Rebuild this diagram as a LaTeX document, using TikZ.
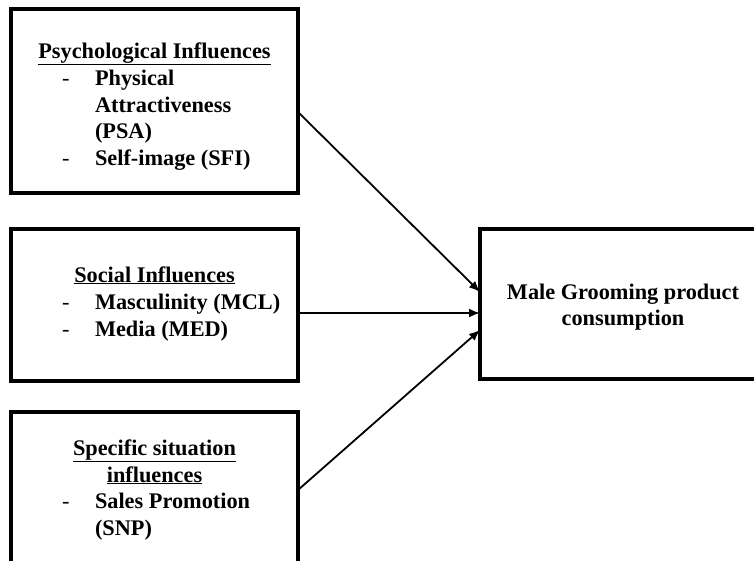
\documentclass[tikz,border=0pt]{standalone}
\usepackage{fontspec}
\setmainfont{Liberation Serif}
\usetikzlibrary{arrows.meta}
\tikzset{
  box/.style={draw, line width=3.5pt, rectangle, inner sep=0pt, outer sep=0pt},
  txt/.style={inner sep=0pt, outer sep=0pt, font=\fontsize{22.3}{26.8}\selectfont\bfseries},
  dashmark/.style={inner sep=0pt, outer sep=0pt, font=\fontsize{22.3}{26.8}\selectfont},
  arr/.style={line width=1.8pt, -{Latex[length=11pt,width=9pt]}}
}
\begin{document}
\begin{tikzpicture}[x=1pt,y=-1pt]
\useasboundingbox (0,0) rectangle (754,560);
\clip (0,0) rectangle (754,560);
\fill[white] (0,0) rectangle (754,560);
% boxes
\node[box, anchor=north west, minimum width=287pt, minimum height=184pt] (b1) at (11,9) {};
\node[box, anchor=north west, minimum width=287pt, minimum height=152pt] (b2) at (11,229) {};
\node[box, anchor=north west, minimum width=287pt, minimum height=200pt] (b3) at (11,412) {};
\node[box, anchor=north west, minimum width=300pt, minimum height=150pt] (b4) at (480,229) {};
% box 1 text
\node[txt, anchor=base] (h1) at (154.5,58) {\underline{Psychological Influences}};
\node[dashmark, anchor=base west] (d1a) at (62,85) {-};
\node[txt, anchor=base west] (t1a) at (95,85) {Physical};
\node[txt, anchor=base west] (t1b) at (95,112) {Attractiveness};
\node[txt, anchor=base west] (t1c) at (95,138.5) {(PSA)};
\node[dashmark, anchor=base west] (d1b) at (62,165) {-};
\node[txt, anchor=base west] (t1d) at (95,165) {Self-image (SFI)};
% box 2 text
\node[txt, anchor=base] (h2) at (154.5,282) {\underline{Social Influences}};
\node[dashmark, anchor=base west] (d2a) at (62,309) {-};
\node[txt, anchor=base west] (t2a) at (95,309) {Masculinity (MCL)};
\node[dashmark, anchor=base west] (d2b) at (62,336) {-};
\node[txt, anchor=base west] (t2b) at (95,336) {Media (MED)};
% box 3 text
\node[txt, anchor=base] (h3a) at (154.5,455) {\underline{Specific situation}};
\node[txt, anchor=base] (h3b) at (154.5,482) {\underline{influences}};
\node[dashmark, anchor=base west] (d3a) at (62,508) {-};
\node[txt, anchor=base west] (t3a) at (95,508) {Sales Promotion};
\node[txt, anchor=base west] (t3b) at (95,535) {(SNP)};
% box 4 text
\node[txt, anchor=base] (m1) at (623,299) {Male Grooming product};
\node[txt, anchor=base] (m2) at (623,325) {consumption};
% arrows
\draw[arr] (b1.east |- 0,112) -- (b4.west |- 0,292);
\draw[arr] (b2.east |- 0,313) -- (b4.west |- 0,313);
\draw[arr] (b3.east |- 0,490) -- (b4.west |- 0,330);
\end{tikzpicture}
\end{document}
